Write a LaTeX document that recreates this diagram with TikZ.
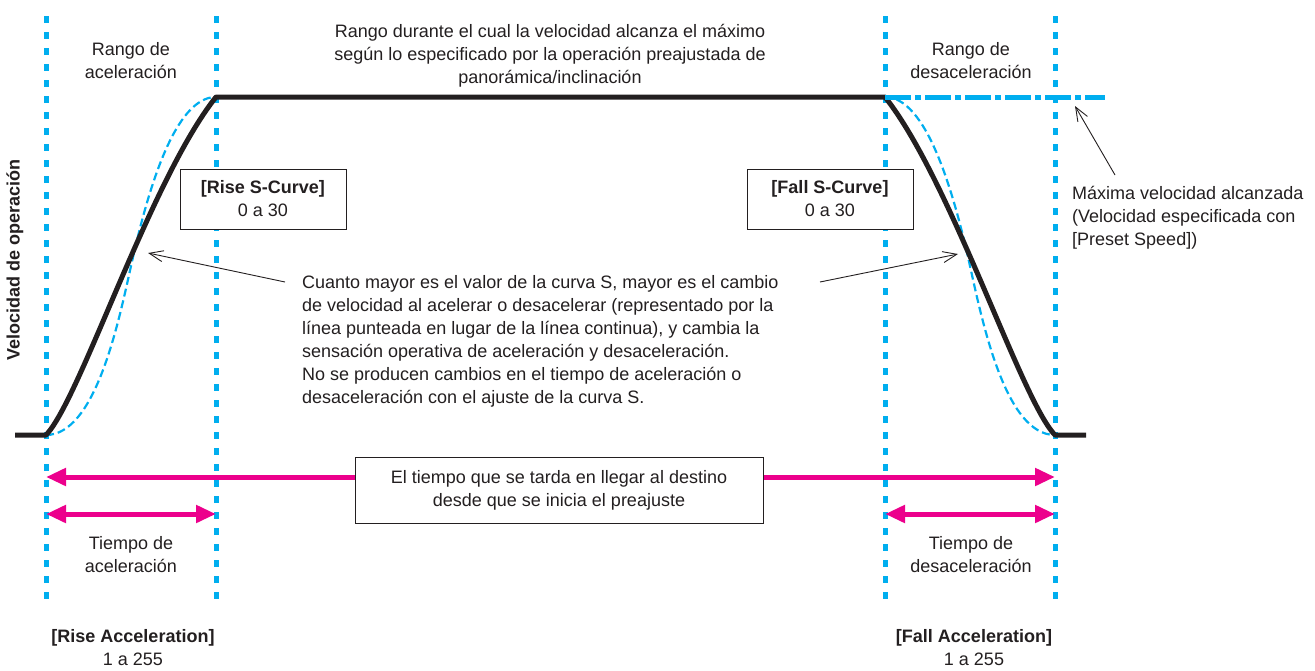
\documentclass[tikz,border=0pt]{standalone}
\usepackage{fontspec}
\setmainfont{Liberation Sans}
\usetikzlibrary{arrows.meta}
\definecolor{cy}{HTML}{00AEEF}
\definecolor{mg}{HTML}{EC008C}
\definecolor{tx}{HTML}{231F20}
\begin{document}
\begin{tikzpicture}[x=1pt,y=-1pt,
  every node/.style={text=tx, font=\fontsize{18}{23}\selectfont, inner sep=0pt},
  guide/.style={cy, line width=5pt, dash pattern=on 7pt off 9pt},
  speed/.style={tx, line width=5pt, line join=round},
  scurve/.style={cy, line width=2.2pt, dash pattern=on 8pt off 4pt},
  maxline/.style={cy, line width=5pt, dash pattern=on 26pt off 4pt on 6pt off 4pt},
  timearrow/.style={mg, line width=5pt, -{Triangle[length=20pt,width=17pt]}},
  timeboth/.style={mg, line width=5pt, {Triangle[length=20pt,width=17pt]}-{Triangle[length=20pt,width=17pt]}},
  pointer/.style={tx, line width=0.9pt, -{Straight Barb[length=14pt,width=11pt]}},
  valbox/.style={draw=tx, line width=1pt, fill=white, minimum width=166pt, minimum height=60pt, align=center},
  lbl/.style={align=center},
]
\useasboundingbox (0,0) rectangle (1315,670);

% vertical guides
\foreach \x/\n in {46/a,216/b,885/c,1055/d}{
  \coordinate (\n t) at (\x,16);
  \coordinate (\n b) at (\x,600);
  \draw[guide] (\n t) -- (\n b);
}

% key points of the speed profile
\coordinate (s0) at (15,435);
\coordinate (s1) at (46,435);
\coordinate (s2) at (216,97);
\coordinate (s3) at (885,97);
\coordinate (s4) at (1055,435);
\coordinate (s5) at (1086,435);
\coordinate (m1) at (131,266);
\coordinate (m2) at (970,266);
\coordinate (maxend) at (1105,97);

% S-curves (dashed)
\draw[scurve] (s1) .. controls (95,435) and (118,325) .. (m1) .. controls (148,189) and (175,97) .. (s2);
\draw[scurve] (s3) .. controls (926,97) and (953,189) .. (m2) .. controls (983,325) and (1006,435) .. (s4);

% speed profile
\draw[speed] (s0) -- (s1) .. controls (80,400) and (150,180) .. (s2) -- (s3)
  .. controls (951,180) and (1021,400) .. (s4) -- (s5);

% maximum speed line
\draw[maxline] (s3) -- (maxend);

% texts
\node[lbl] (top) at (550,56) {Rango durante el cual la velocidad alcanza el máximo\\según lo especificado por la operación preajustada de\\panorámica/inclinación};
\node[lbl] (racc) at (131,61) {Rango de\\aceleración};
\node[lbl] (rdec) at (971,61) {Rango de\\desaceleración};
\node[valbox] (rise) at (263,199) {\textbf{[Rise S-Curve]}\\0 a 30};
\node[valbox] (fall) at (830,199) {\textbf{[Fall S-Curve]}\\0 a 30};
\node[align=left, anchor=west] (main) at (302,341) {Cuanto mayor es el valor de la curva S, mayor es el cambio\\de velocidad al acelerar o desacelerar (representado por la\\línea punteada en lugar de la línea continua), y cambia la\\sensación operativa de aceleración y desaceleración.\\No se producen cambios en el tiempo de aceleración o\\desaceleración con el ajuste de la curva S.};
\node[align=left, anchor=west] (maxv) at (1072,218) {Máxima velocidad alcanzada\\(Velocidad especificada con\\{[Preset Speed])}};
\node[draw=tx, line width=1pt, fill=white, minimum width=408pt, minimum height=66pt, align=center] (tbox) at (559,490) {El tiempo que se tarda en llegar al destino\\desde que se inicia el preajuste};
\node[lbl] (tacc) at (131,555) {Tiempo de\\aceleración};
\node[lbl] (tdec) at (971,555) {Tiempo de\\desaceleración};
\node[lbl] (risea) at (133,648) {\textbf{[Rise Acceleration]}\\1 a 255};
\node[lbl] (falla) at (974,648) {\textbf{[Fall Acceleration]}\\1 a 255};
\node[rotate=90, font=\fontsize{18}{23}\selectfont\bfseries] (vel) at (15,260) {Velocidad de operación};

% pointers
\coordinate (p1s) at (285,282);
\coordinate (p1e) at (148,253);
\coordinate (p2s) at (820,282);
\coordinate (p2e) at (958,254);
\coordinate (p3s) at (1115,175);
\coordinate (p3e) at (1075,106);
\draw[pointer] (p1s) -- (p1e);
\draw[pointer] (p2s) -- (p2e);
\draw[pointer] (p3s) -- (p3e);

% time arrows
\coordinate (ta) at (46,477);
\coordinate (td) at (1055,477);
\draw[timearrow] (tbox.west |- ta) -- (ta);
\draw[timearrow] (tbox.east |- td) -- (td);
\coordinate (ua) at (46,514);
\coordinate (ub) at (216,514);
\coordinate (uc) at (885,514);
\coordinate (ud) at (1055,514);
\draw[timeboth] (ua) -- (ub);
\draw[timeboth] (uc) -- (ud);
\end{tikzpicture}
\end{document}
